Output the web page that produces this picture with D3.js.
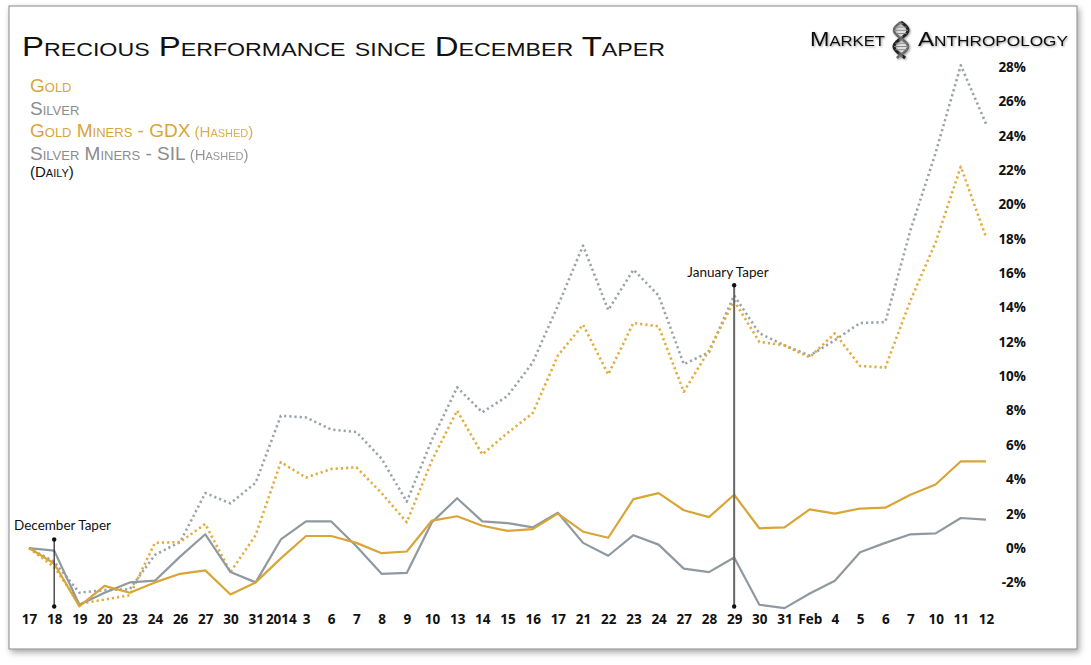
<!DOCTYPE html>
<html><head><meta charset="utf-8">
<script src="https://cdn.jsdelivr.net/npm/d3@7"></script>
<style>
body{margin:0;background:#fff;}
svg{display:block;}
</style></head>
<body><svg id="chart" width="1091" height="665"></svg>
<script>
const dates = ["17","18","19","20","23","24","26","27","30","31","2014","3","6","7","8","9","10","13","14","15","16","17","21","22","23","24","27","28","29","30","31","Feb","4","5","6","7","10","11","12"];
const gold = [0,-0.9,-3.4,-2.2,-2.6,-2.0,-1.5,-1.3,-2.7,-2.0,-0.6,0.7,0.7,0.3,-0.3,-0.2,1.6,1.85,1.3,1.0,1.1,2.0,0.95,0.6,2.85,3.2,2.2,1.8,3.1,1.15,1.2,2.25,2.0,2.3,2.35,3.1,3.7,5.05,5.05];
const silver = [0,-0.15,-3.3,-2.6,-2.0,-1.9,-0.5,0.8,-1.4,-2.0,0.5,1.55,1.55,0.1,-1.5,-1.45,1.5,2.9,1.55,1.45,1.2,2.05,0.3,-0.45,0.75,0.2,-1.2,-1.4,-0.55,-3.3,-3.5,-2.65,-1.9,-0.25,0.3,0.8,0.85,1.75,1.65];
const gdx = [0,-1.1,-3.25,-3.0,-2.75,0.3,0.35,1.4,-1.4,0.75,5.0,4.1,4.6,4.7,3.2,1.5,5.1,8.0,5.45,6.7,7.85,11.2,13.0,10.1,13.1,12.9,9.1,11.5,14.4,12.0,11.8,11.1,12.5,10.6,10.5,14.4,17.8,22.2,18.1];
const sil = [0,-0.8,-2.6,-2.45,-2.4,-0.4,0.35,3.2,2.6,3.8,7.7,7.6,6.9,6.75,5.2,2.7,6.3,9.35,7.9,8.85,10.8,14.1,17.6,13.85,16.2,14.7,10.7,11.4,14.7,12.5,11.8,11.2,12.1,13.1,13.15,18.5,23.0,28.1,24.7];
const yTicks = [-2,0,2,4,6,8,10,12,14,16,18,20,22,24,26,28];
const legendItems = [
  {label:"Gold", note:"", color:"#d8a53c"},
  {label:"Silver", note:"", color:"#8c8c8c"},
  {label:"Gold Miners - GDX", note:" (Hashed)", color:"#d8a53c"},
  {label:"Silver Miners - SIL", note:" (Hashed)", color:"#8c8c8c"}
];
const annotations = [
  {label:"December Taper", idx:1, top:0.5, bottom:-3.4, color:"#222", tx:14, ty:530, anchor:"start"},
  {label:"January Taper", idx:28, top:15.3, bottom:-3.4, color:"#666", tx:728, ty:277, anchor:"middle"}
];

const svg = d3.select("#chart");
const defs = svg.append("defs");
const f = defs.append("filter").attr("id","shadow").attr("x","-5%").attr("y","-5%").attr("width","110%").attr("height","110%");
f.append("feDropShadow").attr("dx",2).attr("dy",3).attr("stdDeviation",3).attr("flood-color","#000").attr("flood-opacity",0.35);
const ts = defs.append("filter").attr("id","tshadow");
ts.append("feDropShadow").attr("dx",1).attr("dy",1).attr("stdDeviation",0.8).attr("flood-color","#000").attr("flood-opacity",0.4);

svg.append("rect").attr("x",9).attr("y",6).attr("width",1068).attr("height",643)
  .attr("fill","#fff").attr("stroke","#888").attr("stroke-width",1).attr("filter","url(#shadow)");

const x = d3.scalePoint().domain(d3.range(dates.length)).range([29,986]);
const y = d3.scaleLinear().domain([-2,28]).range([582.4,67]);

// axes
const yAxis = d3.axisLeft(y).tickValues(yTicks).tickSize(0).tickPadding(0).tickFormat(d=>d+"%");
const gy = svg.append("g").attr("transform","translate(1026,0)").call(yAxis);
gy.select(".domain").remove();
gy.selectAll("text").attr("font-family","'Open Sans', sans-serif").attr("font-weight","bold").attr("font-size",13.5).attr("fill","#111");

const xAxis = d3.axisBottom(x).tickSize(0).tickPadding(0).tickFormat(i=>dates[i]);
const gx = svg.append("g").attr("transform","translate(0,614)").call(xAxis);
gx.select(".domain").remove();
gx.selectAll("text").attr("font-family","'Open Sans', sans-serif").attr("font-weight","bold").attr("font-size",13.5).attr("fill","#111");

// lines
const line = d3.line().x((d,i)=>x(i)).y(d=>y(d));
const series = [
  {data:sil, color:"#9aa3a9", dash:"2.2,3", w:2.6},
  {data:gdx, color:"#e0ac3e", dash:"2.2,3", w:2.6},
  {data:silver, color:"#8f999f", dash:null, w:2.2},
  {data:gold, color:"#d9a536", dash:null, w:2.2}
];
series.forEach(s=>{
  svg.append("path").datum(s.data).attr("d",line).attr("fill","none")
    .attr("stroke",s.color).attr("stroke-width",s.w).attr("stroke-linejoin","round")
    .attr("stroke-dasharray",s.dash);
});

// annotations
annotations.forEach(a=>{
  const g = svg.append("g");
  const ax = x(a.idx);
  g.append("line").attr("x1",ax).attr("x2",ax).attr("y1",y(a.top)).attr("y2",y(a.bottom))
    .attr("stroke",a.color).attr("stroke-width",a.color==="#222"?1.2:2);
  [a.top,a.bottom].forEach(v=>g.append("circle").attr("cx",ax).attr("cy",y(v)).attr("r",2.2).attr("fill","#111"));
  g.append("text").attr("x",a.tx).attr("y",a.ty).attr("text-anchor",a.anchor)
    .attr("font-family","Lato, sans-serif").attr("font-size",13.5).attr("fill","#111").text(a.label);
});

// title
svg.append("text").attr("x",22).attr("y",56).attr("font-family","'Liberation Sans', sans-serif")
  .attr("font-size",27).attr("font-variant","small-caps").attr("fill","#111")
  .attr("textLength",643).attr("lengthAdjust","spacingAndGlyphs")
  .text("Precious Performance since December Taper");

// legend
const lg = svg.append("g");
legendItems.forEach((d,i)=>{
  const t = lg.append("text").attr("x",30).attr("y",92+i*22.5)
    .attr("font-family","'Liberation Sans', sans-serif").attr("font-variant","small-caps")
    .attr("fill",d.color).attr("font-size",19);
  t.append("tspan").text(d.label);
  if(d.note) t.append("tspan").attr("font-size",15).attr("opacity",0.9).text(d.note);
});
lg.append("text").attr("x",30).attr("y",177).attr("font-family","'Liberation Sans', sans-serif")
  .attr("font-variant","small-caps").attr("font-size",15).attr("fill","#111").text("(Daily)");

// logo
const logo = svg.append("g").attr("filter","url(#tshadow)");
logo.append("text").attr("x",810).attr("y",46).attr("font-family","'Liberation Sans', sans-serif")
  .attr("font-variant","small-caps").attr("font-size",21).attr("fill","#111")
  .attr("textLength",75).attr("lengthAdjust","spacingAndGlyphs").text("Market");
logo.append("text").attr("x",918).attr("y",46).attr("font-family","'Liberation Sans', sans-serif")
  .attr("font-variant","small-caps").attr("font-size",21).attr("fill","#111")
  .attr("textLength",150).attr("lengthAdjust","spacingAndGlyphs").text("Anthropology");
// DNA helix icon
const hx = 901, hy0 = 22, hy1 = 58;
const helix = d3.range(0,1.001,0.02);
const strand = (ph)=>d3.line().x(t=>hx+7*Math.sin(t*Math.PI*2.2+ph)).y(t=>hy0+t*(hy1-hy0))(helix);
logo.append("path").attr("d",strand(0)).attr("fill","none").attr("stroke","#222").attr("stroke-width",3);
logo.append("path").attr("d",strand(Math.PI)).attr("fill","none").attr("stroke","#666").attr("stroke-width",2.5);
d3.range(0.05,1,0.09).forEach(t=>{
  logo.append("line").attr("x1",hx+7*Math.sin(t*Math.PI*2.2)).attr("x2",hx+7*Math.sin(t*Math.PI*2.2+Math.PI))
    .attr("y1",hy0+t*(hy1-hy0)).attr("y2",hy0+t*(hy1-hy0)).attr("stroke","#888").attr("stroke-width",1);
});
</script></body></html>
